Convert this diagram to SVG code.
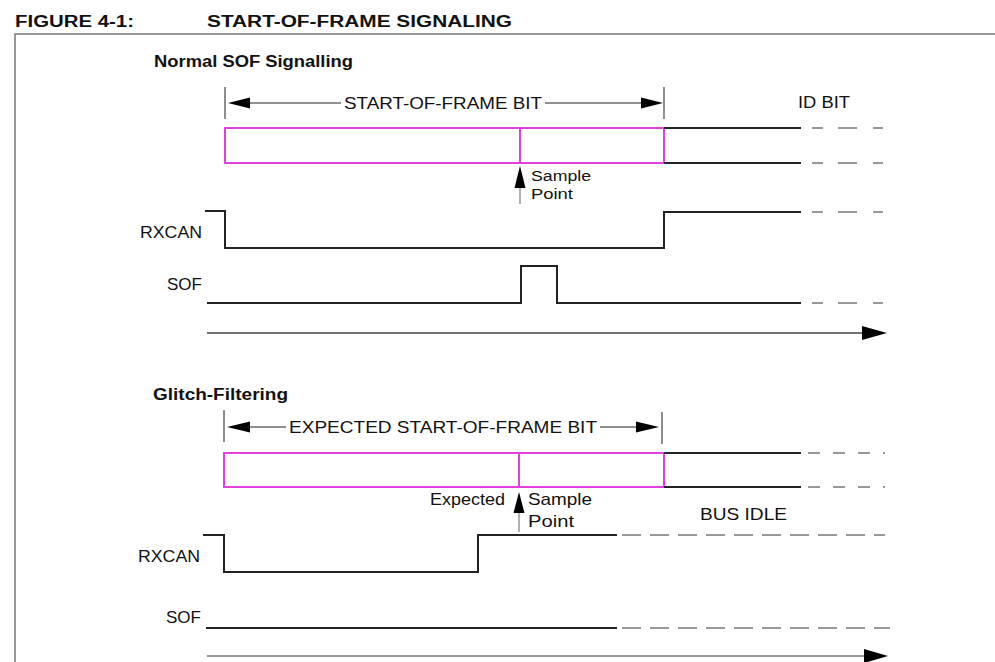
<svg xmlns="http://www.w3.org/2000/svg" width="995" height="662" viewBox="0 0 995 662">
<style>
  .bg{fill:#ffffff}
  .frame{stroke:#777;stroke-width:1.5;fill:none}
  .title{font-family:"Liberation Sans",Arial,sans-serif;font-weight:bold;font-size:16px;fill:#111}
  .head{font-family:"Liberation Sans",Arial,sans-serif;font-weight:bold;font-size:16px;fill:#111}
  .lbl{font-family:"Liberation Sans",Arial,sans-serif;font-size:17px;fill:#111}
  .sm{font-family:"Liberation Sans",Arial,sans-serif;font-size:15.5px;fill:#111}
  .box{fill:none;stroke:#e040e0;stroke-width:2}
  .wave{fill:none;stroke:#222;stroke-width:2}
  .dash{fill:none;stroke:#999;stroke-width:2}
  .tick{stroke:#444;stroke-width:1.2}
  .dim{stroke:#222;stroke-width:1.2}
  .axis1{stroke:#444;stroke-width:1.5}
  .axis2{stroke:#999;stroke-width:2}
  .shaft{stroke:#999;stroke-width:1.5}
  .head-fill{fill:#000}
</style>
<rect class="bg" x="0" y="0" width="995" height="662"/>
<g id="title">
  <text class="title" x="15" y="27" textLength="119" lengthAdjust="spacingAndGlyphs">FIGURE 4-1:</text>
  <text class="title" x="207" y="27" textLength="305" lengthAdjust="spacingAndGlyphs">START-OF-FRAME SIGNALING</text>
</g>
<g id="frame">
  <path class="frame" d="M995,34 H15 V662"/>
</g>

<!-- Section 1 -->
<g id="normal-section">
  <text class="head" x="154" y="67" textLength="199" lengthAdjust="spacingAndGlyphs">Normal SOF Signalling</text>
</g>
<g id="sof-bit-dimension">
  <line class="tick" x1="225" y1="87" x2="225" y2="119"/>
  <line class="tick" x1="664" y1="87" x2="664" y2="119"/>
  <line class="dim" x1="248" y1="103" x2="341" y2="103"/>
  <polygon class="head-fill" points="228,103 250,97.5 250,108.5"/>
  <text class="lbl" x="344" y="109" textLength="198" lengthAdjust="spacingAndGlyphs">START-OF-FRAME BIT</text>
  <line class="dim" x1="545" y1="103" x2="643" y2="103"/>
  <polygon class="head-fill" points="663,103 641,97.5 641,108.5"/>
</g>
<g id="id-bit-label">
  <text class="lbl" x="798" y="108" textLength="52" lengthAdjust="spacingAndGlyphs">ID BIT</text>
</g>
<g id="bit-box-1">
  <rect class="box" x="225" y="128" width="439" height="35"/>
  <line class="box" x1="520" y1="128" x2="520" y2="163"/>
</g>
<g id="id-bit-lines">
  <line class="wave" x1="664" y1="128" x2="801" y2="128"/>
  <line class="wave" x1="664" y1="163" x2="801" y2="163"/>
  <line class="dash" x1="812" y1="128" x2="885" y2="128" stroke-dasharray="11 15 19 16 10 100"/>
  <line class="dash" x1="812" y1="163" x2="885" y2="163" stroke-dasharray="11 15 19 16 10 100"/>
</g>
<g id="sample-point-1">
  <line class="shaft" x1="520" y1="186" x2="520" y2="204"/>
  <polygon class="head-fill" points="520,166 514.5,188 525.5,188"/>
  <text class="sm" x="531" y="181" textLength="60" lengthAdjust="spacingAndGlyphs">Sample</text>
  <text class="sm" x="531" y="199" textLength="42" lengthAdjust="spacingAndGlyphs">Point</text>
</g>
<g id="rxcan-1">
  <text class="lbl" x="140" y="238" textLength="62" lengthAdjust="spacingAndGlyphs">RXCAN</text>
  <polyline class="wave" points="205,211 225,211 225,248 664,248 664,212 801,212"/>
  <line class="dash" x1="812" y1="212" x2="885" y2="212" stroke-dasharray="11 15 19 16 10 100"/>
</g>
<g id="sof-1">
  <text class="lbl" x="167" y="290">SOF</text>
  <polyline class="wave" points="207,303 521,303 521,266 557,266 557,303 801,303"/>
  <line class="dash" x1="812" y1="303" x2="885" y2="303" stroke-dasharray="11 15 19 16 10 100"/>
</g>
<g id="time-axis-1">
  <line class="axis1" x1="207" y1="333" x2="866" y2="333"/>
  <polygon class="head-fill" points="887,333 862,326 862,340"/>
</g>

<!-- Section 2 -->
<g id="glitch-section">
  <text class="head" x="153" y="400" textLength="135" lengthAdjust="spacingAndGlyphs">Glitch-Filtering</text>
</g>
<g id="expected-bit-dimension">
  <line class="tick" x1="224" y1="410" x2="224" y2="442"/>
  <line class="tick" x1="662" y1="412" x2="662" y2="444"/>
  <line class="dim" x1="248" y1="427" x2="286" y2="427"/>
  <polygon class="head-fill" points="227,427 250,421.5 250,432.5"/>
  <text class="lbl" x="289" y="433" textLength="308" lengthAdjust="spacingAndGlyphs">EXPECTED START-OF-FRAME BIT</text>
  <line class="dim" x1="600" y1="427" x2="638" y2="427"/>
  <polygon class="head-fill" points="659,427 636,421.5 636,432.5"/>
</g>
<g id="bit-box-2">
  <rect class="box" x="224" y="453" width="440" height="34"/>
  <line class="box" x1="519" y1="453" x2="519" y2="487"/>
</g>
<g id="idle-lines">
  <line class="wave" x1="664" y1="453" x2="801" y2="453"/>
  <line class="wave" x1="664" y1="487" x2="801" y2="487"/>
  <line class="dash" x1="808" y1="453" x2="885" y2="453" stroke-dasharray="12 13"/>
  <line class="dash" x1="808" y1="487" x2="885" y2="487" stroke-dasharray="12 13"/>
</g>
<g id="sample-point-2">
  <line class="shaft" x1="519" y1="510" x2="519" y2="532"/>
  <polygon class="head-fill" points="519,492 513.5,513 524.5,513"/>
  <text class="lbl" x="505" y="505" text-anchor="end" textLength="75" lengthAdjust="spacingAndGlyphs">Expected</text>
  <text class="lbl" x="528" y="505" textLength="64" lengthAdjust="spacingAndGlyphs">Sample</text>
  <text class="lbl" x="528" y="527" textLength="46" lengthAdjust="spacingAndGlyphs">Point</text>
</g>
<g id="bus-idle-label">
  <text class="lbl" x="700" y="520" textLength="87" lengthAdjust="spacingAndGlyphs">BUS IDLE</text>
</g>
<g id="rxcan-2">
  <text class="lbl" x="138" y="562" textLength="62" lengthAdjust="spacingAndGlyphs">RXCAN</text>
  <polyline class="wave" points="203,535 224,535 224,572 478,572 478,535 617,535"/>
  <line class="dash" x1="622" y1="535" x2="885" y2="535" stroke-dasharray="19 9"/>
</g>
<g id="sof-2">
  <text class="lbl" x="166" y="623">SOF</text>
  <line class="wave" x1="206" y1="628" x2="617" y2="628"/>
  <line class="dash" x1="622" y1="628" x2="890" y2="628" stroke-dasharray="19 9"/>
</g>
<g id="time-axis-2">
  <line class="axis2" x1="207" y1="656" x2="868" y2="656"/>
  <polygon class="head-fill" points="888,656 864,649 864,663"/>
</g>
</svg>
